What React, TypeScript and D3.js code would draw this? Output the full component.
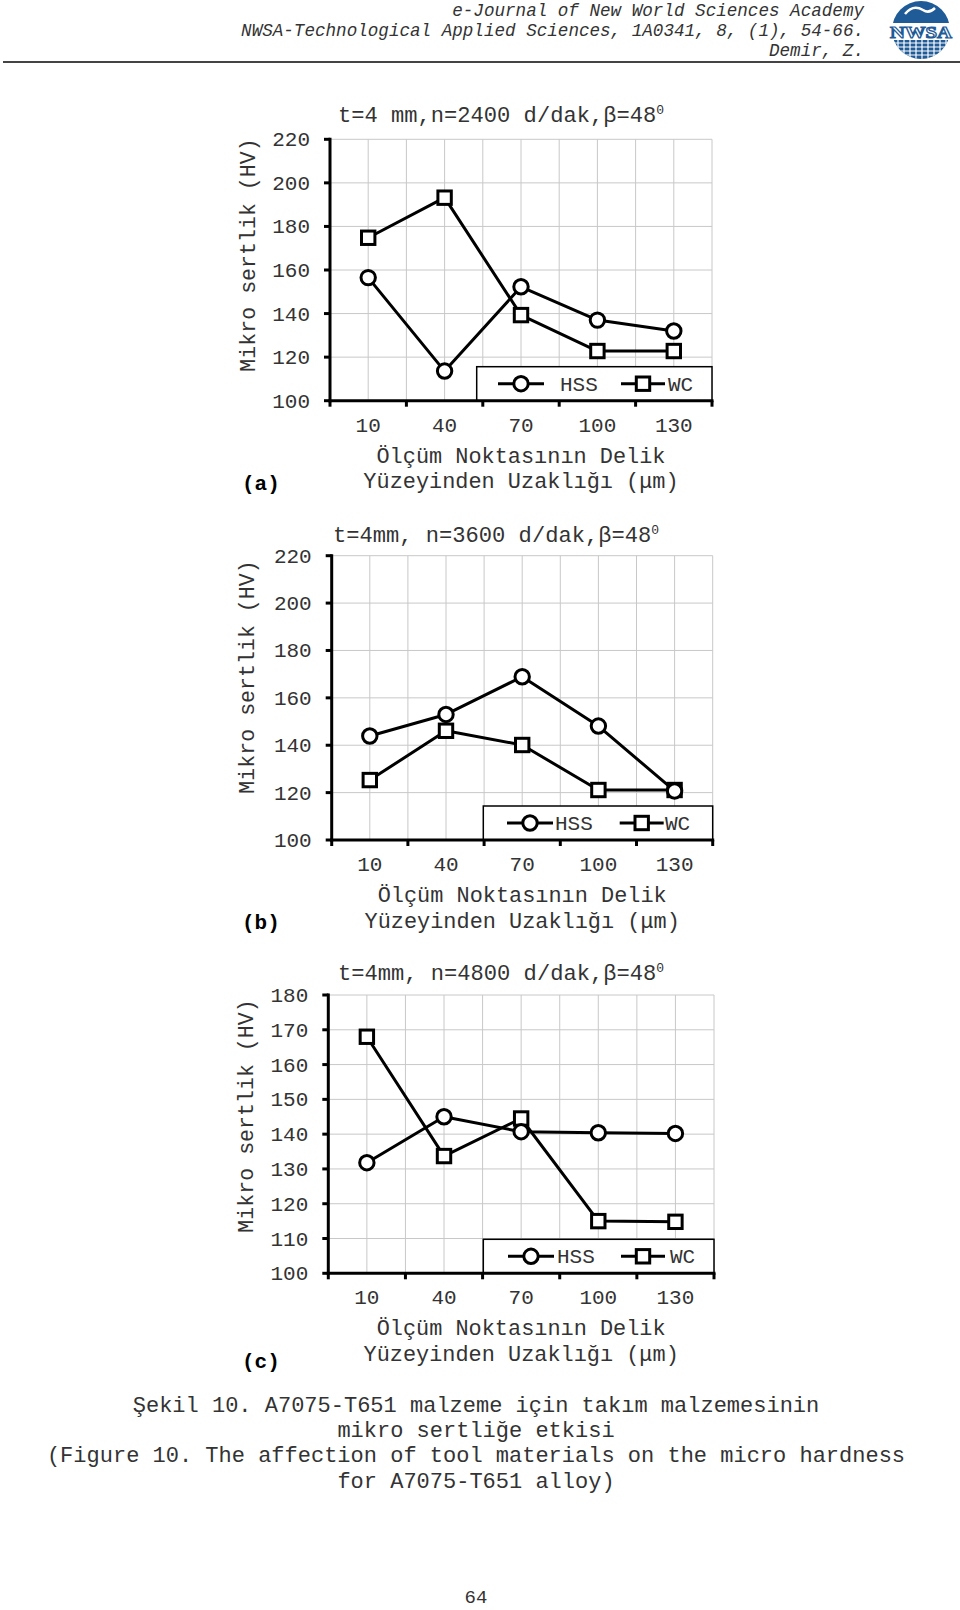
import React from "react";
import * as d3 from "d3";

// data
const categories = ["10", "40", "70", "100", "130"];
const seriesNames = ["HSS", "WC"];

const hssA = [156.5, 113.6, 152.3, 137, 132];
const wcA = [174.8, 193.2, 139.3, 122.8, 122.8];
const hssB = [143.9, 153, 168.9, 148.1, 120.7];
const wcB = [125.3, 146.1, 140.1, 121.1, 121.1];
const hssC = [131.8, 145, 140.7, 140.4, 140.2];
const wcC = [168, 133.7, 144.5, 115, 114.8];

const yTicksAB = [100, 120, 140, 160, 180, 200, 220];
const yTicksC = [100, 110, 120, 130, 140, 150, 160, 170, 180];

const titles = ["t=4 mm,n=2400 d/dak,β=48", "t=4mm, n=3600 d/dak,β=48", "t=4mm, n=4800 d/dak,β=48"];
const panelLabels = ["(a)", "(b)", "(c)"];
const yAxisTitle = "Mikro sertlik (HV)";
const xAxisTitle = ["Ölçüm Noktasının Delik", "Yüzeyinden Uzaklığı (μm)"];

const headerLines = [
  "e-Journal of New World Sciences Academy",
  "NWSA-Technological Applied Sciences, 1A0341, 8, (1), 54-66.",
  "Demir, Z.",
];
const captionLines = [
  "Şekil 10. A7075-T651 malzeme için takım malzemesinin",
  "mikro sertliğe etkisi",
  "(Figure 10. The affection of tool materials on the micro hardness",
  "for A7075-T651 alloy)",
];
const pageNumber = "64";

// layout of the three panels
const panels = [
  {
    left: 330, right: 712, top: 139.3, bottom: 400.7, ticks: yTicksAB, hss: hssA, wc: wcA,
    title: titles[0], titleX: 338, titleY: 121.5, legendLeft: 476.7, legend: [44.3, 83.3, 166.3, 191.3],
    yLabelX: 248, yLabelY: 255, labelY: 490,
  },
  {
    left: 331.7, right: 712.7, top: 555.7, bottom: 840, ticks: yTicksAB, hss: hssB, wc: wcB,
    title: titles[1], titleX: 333, titleY: 541.5, legendLeft: 483.3, legend: [46.7, 71.7, 158.4, 181.7],
    yLabelX: 247, yLabelY: 677, labelY: 929,
  },
  {
    left: 328.3, right: 714, top: 995, bottom: 1273.3, ticks: yTicksC, hss: hssC, wc: wcC,
    title: titles[2], titleX: 338, titleY: 980, legendLeft: 483.3, legend: [47.7, 73.7, 159.7, 186.7],
    yLabelX: 246, yLabelY: 1116, labelY: 1368,
  },
];

const FONT = "'Liberation Mono', 'Courier New', monospace";
const TEXT = "#333";

const Circle = ({ cx, cy }) => (
  <circle cx={cx} cy={cy} r={7.2} fill="#fff" stroke="#000" strokeWidth={3} />
);
const Square = ({ cx, cy }) => (
  <rect x={cx - 6.7} y={cy - 6.7} width={13.4} height={13.4} fill="#fff" stroke="#000" strokeWidth={3} />
);

const Panel = ({ p, idx }) => {
  const x = d3.scaleBand().domain(categories).range([p.left, p.right]).padding(0);
  const y = d3.scaleLinear().domain([p.ticks[0], p.ticks[p.ticks.length - 1]]).range([p.bottom, p.top]);
  const bw = x.bandwidth();
  const cx = (c) => x(c) + bw / 2;
  const line = d3.line().x((d, i) => cx(categories[i])).y((d) => y(d));
  const edges = categories.map((c) => x(c)).concat([p.right]);
  const centers = categories.map(cx);
  const legY = p.bottom - 17;
  const [hm, ht, wm, wt] = p.legend.map((o) => p.legendLeft + o);
  const midX = (p.left + p.right) / 2;

  return (
    <g>
      {/* grid */}
      {p.ticks.map((t) => (
        <line key={"h" + t} x1={p.left} x2={p.right} y1={y(t)} y2={y(t)} stroke="#c8c8c8" strokeWidth={1} />
      ))}
      {edges.slice(1).concat(centers).map((gx, i) => (
        <line key={"v" + i} x1={gx} x2={gx} y1={p.top} y2={p.bottom} stroke="#c8c8c8" strokeWidth={1} />
      ))}

      {/* series */}
      <path d={line(p.hss)} fill="none" stroke="#000" strokeWidth={3} strokeLinejoin="round" />
      <path d={line(p.wc)} fill="none" stroke="#000" strokeWidth={3} strokeLinejoin="round" />
      {p.wc.map((v, i) => (
        <Square key={"w" + i} cx={cx(categories[i])} cy={y(v)} />
      ))}
      {p.hss.map((v, i) => (
        <Circle key={"c" + i} cx={cx(categories[i])} cy={y(v)} />
      ))}

      {/* legend */}
      <rect x={p.legendLeft} y={p.bottom - 34} width={p.right - p.legendLeft} height={34} fill="#fff" stroke="#000" strokeWidth={1.5} />
      <line x1={hm - 23} x2={hm + 23} y1={legY} y2={legY} stroke="#000" strokeWidth={3} />
      <Circle cx={hm} cy={legY} />
      <text x={ht} y={legY + 7} fontSize={21} fontFamily={FONT} fill={TEXT}>{seriesNames[0]}</text>
      <line x1={wm - 22} x2={wm + 22} y1={legY} y2={legY} stroke="#000" strokeWidth={3} />
      <Square cx={wm} cy={legY} />
      <text x={wt} y={legY + 7} fontSize={21} fontFamily={FONT} fill={TEXT}>{seriesNames[1]}</text>

      {/* axes */}
      <line x1={p.left} x2={p.left} y1={p.top - 1.5} y2={p.bottom + 1.5} stroke="#000" strokeWidth={3} />
      <line x1={p.left - 1.5} x2={p.right + 1.5} y1={p.bottom} y2={p.bottom} stroke="#000" strokeWidth={3} />
      {p.ticks.map((t) => (
        <g key={"yt" + t}>
          <line x1={p.left - 6} x2={p.left} y1={y(t)} y2={y(t)} stroke="#000" strokeWidth={3} />
          <text x={p.left - 20} y={y(t) + 7} textAnchor="end" fontSize={21} fontFamily={FONT} fill={TEXT}>{t}</text>
        </g>
      ))}
      {edges.map((e, i) => (
        <line key={"xt" + i} x1={e} x2={e} y1={p.bottom} y2={p.bottom + 6} stroke="#000" strokeWidth={3} />
      ))}
      {categories.map((c) => (
        <text key={"xl" + c} x={cx(c)} y={p.bottom + 31} textAnchor="middle" fontSize={21} fontFamily={FONT} fill={TEXT}>{c}</text>
      ))}

      {/* titles */}
      <text x={p.titleX} y={p.titleY} fontSize={22.1} fontFamily={FONT} fill={TEXT}>
        {p.title}
        <tspan fontSize={13} dy={-8}>0</tspan>
      </text>
      <text x={midX} y={p.bottom + 62} textAnchor="middle" fontSize={21.9} fontFamily={FONT} fill={TEXT}>{xAxisTitle[0]}</text>
      <text x={midX} y={p.bottom + 87.5} textAnchor="middle" fontSize={21.9} fontFamily={FONT} fill={TEXT}>{xAxisTitle[1]}</text>
      <text
        transform={`translate(${p.yLabelX + 7},${p.yLabelY}) rotate(-90)`}
        textAnchor="middle" fontSize={21.6} fontFamily={FONT} fill={TEXT}
      >{yAxisTitle}</text>
      <text x={242} y={p.labelY} fontSize={21} fontWeight="bold" fontFamily={FONT} fill="#000">{panelLabels[idx]}</text>
    </g>
  );
};

const Logo = () => (
  <g>
    <defs>
      <clipPath id="globe">
        <circle cx={921} cy={30} r={29} />
      </clipPath>
    </defs>
    <g clipPath="url(#globe)">
      <rect x={890} y={0} width={64} height={23} fill="#1f5b96" />
      <path d="M905,14 q8,-10 18,-4 q6,4 12,-2" fill="none" stroke="#fff" strokeWidth={2.5} />
      <rect x={890} y={23} width={64} height={16} fill="#fff" />
      <rect x={890} y={40} width={64} height={20} fill="#1f5b96" />
      {[43, 47, 51, 55].map((gy) => (
        <line key={gy} x1={890} x2={954} y1={gy} y2={gy} stroke="#fff" strokeWidth={1.2} />
      ))}
      {[898, 904, 910, 916, 922, 928, 934, 940, 946].map((gx) => (
        <line key={gx} x1={gx} x2={gx} y1={40} y2={60} stroke="#fff" strokeWidth={1.2} />
      ))}
    </g>
    <text x={921} y={38} textAnchor="middle" fontSize={17} fontWeight="bold" fontFamily="'Liberation Serif', serif"
      fill="#fff" stroke="#1f5b96" strokeWidth={1.2} textLength={62} lengthAdjust="spacingAndGlyphs">NWSA</text>
  </g>
);

const App = () => (
  <div style={{ position: "absolute", left: 0, top: 0 }}>
    <svg width={960} height={1610} viewBox="0 0 960 1610" style={{ display: "block", background: "#fff" }}>
      <rect width={960} height={1610} fill="#fff" />
      {headerLines.map((t, i) => (
        <text key={i} x={864} y={16 + i * 20} textAnchor="end" fontSize={17.6} fontStyle="italic" fontFamily={FONT} fill={TEXT}>{t}</text>
      ))}
      <Logo />
      <line x1={3} x2={960} y1={62} y2={62} stroke="#444" strokeWidth={2} />

      {panels.map((p, i) => (
        <Panel key={i} p={p} idx={i} />
      ))}

      {captionLines.map((t, i) => (
        <text key={i} x={476} y={1412 + i * 25.2} textAnchor="middle" fontSize={22} fontFamily={FONT} fill={TEXT}>{t}</text>
      ))}
      <text x={476} y={1603} textAnchor="middle" fontSize={19} fontFamily={FONT} fill={TEXT}>{pageNumber}</text>
    </svg>
  </div>
);

export default App;
